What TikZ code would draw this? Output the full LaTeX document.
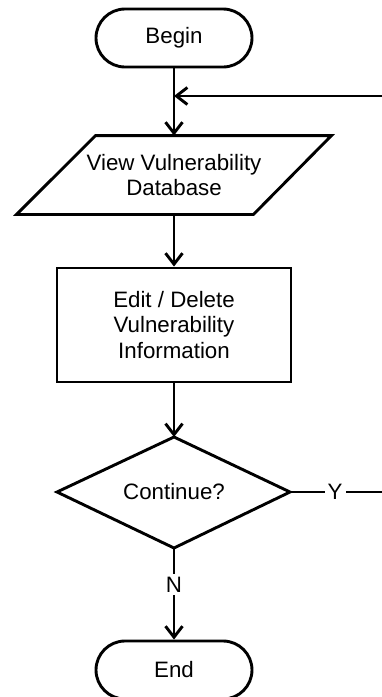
\documentclass[tikz,border=0pt]{standalone}
\usepackage{fontspec}
\setmainfont{Liberation Sans}
\usetikzlibrary{arrows.meta}
\begin{document}
\begin{tikzpicture}[x=1pt,y=-1pt,
  line width=2.9pt,
  every node/.style={font=\fontsize{22.3}{25.5}\selectfont, align=center, inner sep=0pt},
  terminal/.style={draw, rectangle, rounded corners=29pt, minimum width=156pt, minimum height=58pt},
  procbox/.style={draw, rectangle, minimum width=234pt, minimum height=114pt},
  iobox/.style={rectangle, minimum width=312pt, minimum height=76pt},
  flow/.style={-{Straight Barb[length=11pt,width=17pt]}},
  lbl/.style={fill=white, inner sep=3pt}]
\useasboundingbox (0,0) rectangle (382,697);
\begin{scope}
\clip (0,0) rectangle (382,697);

% start / end terminals
\node[terminal] (begin) at (174,38) {Begin};
\node[terminal] (end) at (174,670) {End};

% input/output step
\node[iobox] (view) at (174,175) {View Vulnerability\\Database};
\draw (view.north east) -- ([xshift=-78pt]view.south east)
  -- (view.south west) -- ([xshift=79pt]view.north west) -- cycle;

% processing step
\node[procbox] (edit) at (174,325) {Edit / Delete\\Vulnerability\\ Information};

% decision
\coordinate (dtop) at (174,437);
\coordinate (dbot) at (174,548);
\coordinate (dleft) at (57,492);
\coordinate (dright) at (290,492);
\draw (dtop) -- (dright) -- (dbot) -- (dleft) -- cycle;
\node (cont) at (174,492) {Continue?};

% loop back point on the main line
\coordinate (join) at (174,96);
\coordinate (farright) at (395,492);
\coordinate (farup) at (395,96);

% connectors
\draw (begin.south) -- (join);
\draw[flow] (join) -- (view.north);
\draw[flow] (view.south |- 0,213) -- (edit.north);
\draw[flow] (edit.south) -- (dtop);
\draw[flow] (dbot) -- node[lbl, pos=0.40] (n) {N} (end.north);
\draw[flow] (dright) -- node[lbl, pos=0.43] (y) {Y} (farright) -- (farup) -- (join);
\end{scope}
\end{tikzpicture}
\end{document}
